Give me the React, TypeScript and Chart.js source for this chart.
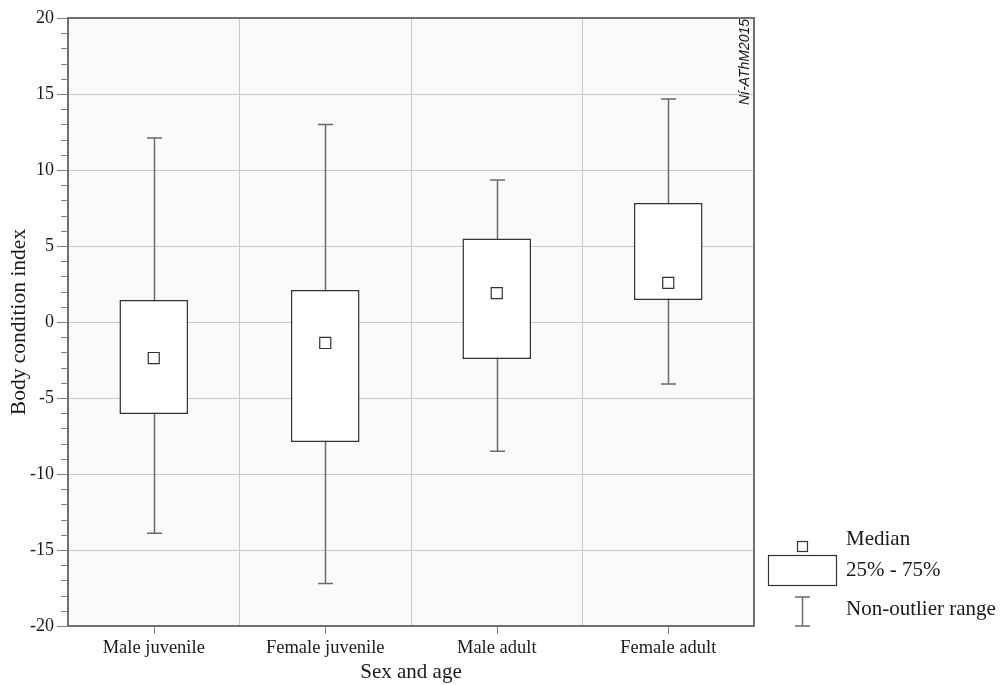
import { useEffect, useRef } from "react";
import { Chart, registerables } from "chart.js";

Chart.register(...registerables);

const categories = ["Male juvenile", "Female juvenile", "Male adult", "Female adult"];
const q1 = [-6.05, -7.9, -2.43, 1.45];
const q3 = [1.45, 2.1, 5.5, 7.83];
const medians = [-2.37, -1.38, 1.9, 2.57];
const whiskerMin = [-13.9, -17.2, -8.5, -4.08];
const whiskerMax = [12.1, 13.0, 9.34, 14.67];
const yMin = -20;
const yMax = 20;
const yStep = 5;
const legendLabels = ["Median", "25% - 75%", "Non-outlier range"];
const watermark = "Ní-AThM2015";

const SERIF = "'Liberation Serif', 'Times New Roman', serif";
const TEXT = "#1a1a1a";

const boxPlugin = {
  id: "boxExtras",
  beforeDatasetsDraw(chart: any) {
    const { ctx, scales } = chart;
    const x = scales.x;
    const y = scales.y;
    ctx.save();
    ctx.strokeStyle = "#6a6a6a";
    ctx.lineWidth = 1.5;
    for (let i = 0; i < categories.length; i++) {
      const px = Math.round(x.getPixelForValue(i)) + 0.5;
      const top = y.getPixelForValue(whiskerMax[i]);
      const bot = y.getPixelForValue(whiskerMin[i]);
      ctx.beginPath();
      ctx.moveTo(px, top);
      ctx.lineTo(px, bot);
      ctx.moveTo(px - 7.5, top);
      ctx.lineTo(px + 7.5, top);
      ctx.moveTo(px - 7.5, bot);
      ctx.lineTo(px + 7.5, bot);
      ctx.stroke();
    }
    ctx.restore();
  },
  afterDraw(chart: any) {
    const { ctx, scales, chartArea } = chart;
    const x = scales.x;
    const y = scales.y;
    ctx.save();
    // minor y ticks
    ctx.strokeStyle = "#808080";
    ctx.lineWidth = 1;
    for (let v = yMin; v <= yMax; v++) {
      if (v % yStep === 0) continue;
      const py = Math.round(y.getPixelForValue(v)) + 0.5;
      ctx.beginPath();
      ctx.moveTo(chartArea.left - 7, py);
      ctx.lineTo(chartArea.left, py);
      ctx.stroke();
    }
    // x category ticks
    for (let i = 0; i < categories.length; i++) {
      const px = Math.round(x.getPixelForValue(i)) + 0.5;
      ctx.beginPath();
      ctx.moveTo(px, chartArea.bottom);
      ctx.lineTo(px, chartArea.bottom + 8);
      ctx.stroke();
    }
    // frame
    ctx.strokeStyle = "#707070";
    ctx.lineWidth = 2;
    ctx.strokeRect(chartArea.left, chartArea.top, chartArea.right - chartArea.left, chartArea.bottom - chartArea.top);
    // watermark
    ctx.save();
    ctx.translate(chartArea.right - 9, chartArea.top + 87);
    ctx.rotate(-Math.PI / 2);
    ctx.font = "italic 14px 'Liberation Sans', Arial, sans-serif";
    ctx.fillStyle = TEXT;
    ctx.textAlign = "left";
    ctx.textBaseline = "middle";
    ctx.fillText(watermark, 0, 0);
    ctx.restore();
    // legend
    const lx = 802.5;
    ctx.fillStyle = "#ffffff";
    ctx.strokeStyle = "#333";
    ctx.lineWidth = 1.2;
    ctx.fillRect(797, 541, 11, 11);
    ctx.strokeRect(797.5, 541.5, 10, 10);
    ctx.fillRect(768, 555, 69, 30);
    ctx.strokeRect(768.5, 555.5, 68, 30);
    ctx.strokeStyle = "#6a6a6a";
    ctx.lineWidth = 1.5;
    ctx.beginPath();
    ctx.moveTo(lx, 597);
    ctx.lineTo(lx, 626);
    ctx.moveTo(lx - 7.5, 597);
    ctx.lineTo(lx + 7.5, 597);
    ctx.moveTo(lx - 7.5, 626);
    ctx.lineTo(lx + 7.5, 626);
    ctx.stroke();
    ctx.fillStyle = TEXT;
    ctx.font = `21px ${SERIF}`;
    ctx.textAlign = "left";
    ctx.textBaseline = "alphabetic";
    ctx.fillText(legendLabels[0], 846, 545);
    ctx.fillText(legendLabels[1], 846, 576);
    ctx.fillText(legendLabels[2], 846, 615);
    ctx.restore();
  },
};

const bgPlugin = {
  id: "plotBg",
  beforeDraw(chart: any) {
    const { ctx, chartArea } = chart;
    ctx.save();
    ctx.fillStyle = "#ffffff";
    ctx.fillRect(0, 0, chart.width, chart.height);
    ctx.fillStyle = "#fafafa";
    ctx.fillRect(chartArea.left, chartArea.top, chartArea.right - chartArea.left, chartArea.bottom - chartArea.top);
    ctx.restore();
  },
};

export default function App() {
  const ref = useRef<HTMLCanvasElement | null>(null);
  useEffect(() => {
    if (!ref.current) return;
    const chart = new Chart(ref.current, {
      type: "bar",
      data: {
        labels: categories,
        datasets: [
          {
            type: "line",
            data: medians,
            showLine: false,
            pointStyle: "rect",
            pointRadius: 7.8,
            pointBackgroundColor: "#ffffff",
            pointBorderColor: "#333",
            pointBorderWidth: 1.2,
            order: 1,
          } as any,
          {
            type: "bar",
            data: categories.map((_, i) => [q1[i], q3[i]]),
            backgroundColor: "#ffffff",
            borderColor: "#333",
            borderWidth: 1.5,
            borderSkipped: false,
            categoryPercentage: 1,
            barPercentage: 0.4,
            order: 2,
          } as any,
        ],
      },
      options: {
        responsive: false,
        animation: false,
        devicePixelRatio: 1,
        layout: { padding: { left: 0, top: 18, right: 247, bottom: 0 } },
        plugins: { legend: { display: false }, tooltip: { enabled: false } },
        scales: {
          x: {
            type: "category",
            offset: true,
            afterFit: (s: any) => {
              s.height = 59;
            },
            grid: { offset: true, drawTicks: false, color: "#c8c8c8", lineWidth: 1 },
            border: { display: false },
            ticks: { color: TEXT, font: { family: SERIF, size: 18.5 }, padding: 11, maxRotation: 0 },
            title: {
              display: true,
              text: "Sex and age",
              color: TEXT,
              font: { family: SERIF, size: 21, lineHeight: 1.2 },
              padding: 0,
            },
          },
          y: {
            min: yMin,
            max: yMax,
            afterFit: (s: any) => {
              s.width = 68;
            },
            ticks: { stepSize: yStep, color: TEXT, font: { family: SERIF, size: 18 }, padding: 3 },
            grid: { color: "#c8c8c8", tickColor: "#808080", tickLength: 11, lineWidth: 1 },
            border: { display: false },
            title: {
              display: true,
              text: "Body condition index",
              color: TEXT,
              font: { family: SERIF, size: 21.5, lineHeight: 1.2 },
              padding: { top: 6, bottom: 0 },
            },
          },
        },
      },
      plugins: [bgPlugin, boxPlugin],
    });
    return () => chart.destroy();
  }, []);
  return (
    <div style={{ position: "fixed", left: 0, top: 0, width: 1001, height: 685 }}>
      <canvas ref={ref} width={1001} height={685} style={{ display: "block", width: 1001, height: 685 }} />
    </div>
  );
}
